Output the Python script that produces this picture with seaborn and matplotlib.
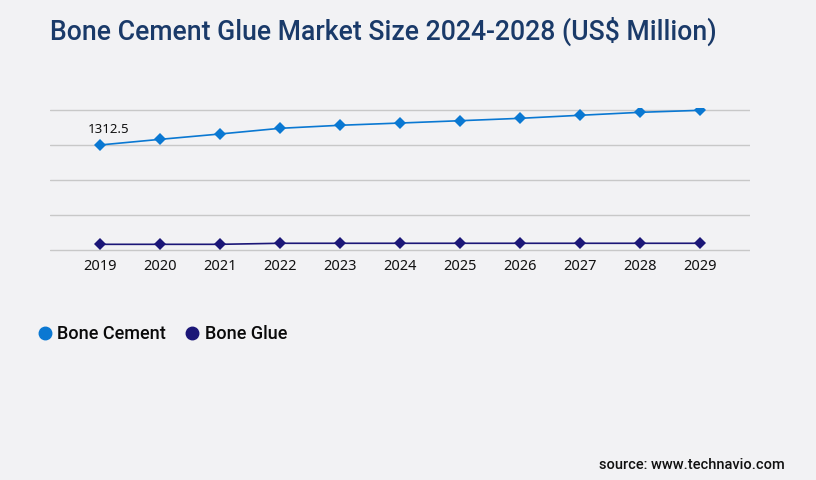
import numpy as np
import pandas as pd
import matplotlib
matplotlib.use("Agg")
import matplotlib.pyplot as plt
import seaborn as sns
from matplotlib.lines import Line2D

# Daten
years = ["2019", "2020", "2021", "2022", "2023", "2024", "2025", "2026", "2027", "2028", "2029"]
bone_cement = [1312.5, 1383, 1450, 1521, 1559, 1587, 1616, 1646, 1684, 1721, 1746]
bone_glue = [71, 71, 71, 84, 84, 84, 84, 84, 84, 84, 84]
series_names = ["Bone Cement", "Bone Glue"]
colors = ["#0a78d2", "#1b1677"]

df = pd.DataFrame({
    "year": years * 2,
    "value": bone_cement + bone_glue,
    "series": [series_names[0]] * len(years) + [series_names[1]] * len(years),
})

sns.set_theme(style="white")
plt.rcParams["font.family"] = ["Roboto", "DejaVu Sans"]

bg = "#f2f2f4"
fig = plt.figure(figsize=(8.16, 4.8), dpi=100, facecolor=bg)
ax = fig.add_axes([50 / 816, 1 - 252 / 480, 700 / 816, 144 / 480])
ax.set_facecolor(bg)

sns.lineplot(data=df, x="year", y="value", hue="series", palette=colors,
             marker="D", markersize=6, markeredgewidth=0, linewidth=1.2,
             ax=ax, legend=False)

# y-Achse: 0..1750, kleiner Rand damit die unterste Linie sichtbar ist
ax.set_xlim(-0.83, len(years) - 1 + 0.83)
ax.set_ylim(-25, 1775)
ax.set_yticks(np.linspace(0, 1750, 5))
ax.yaxis.grid(True, color="#c8c8c8", linewidth=1)
ax.set_axisbelow(True)
ax.set_yticklabels([])
ax.tick_params(axis="y", length=0)
ax.tick_params(axis="x", length=0, pad=5)
for lab in ax.get_xticklabels():
    lab.set_fontfamily(["Noto Sans", "DejaVu Sans"])
    lab.set_fontsize(10.5)
    lab.set_color("#111111")
for s in ax.spines.values():
    s.set_visible(False)
ax.set_xlabel("")
ax.set_ylabel("")

# Datenbeschriftung
ax.annotate(f"{bone_cement[0]}", (0, bone_cement[0]), xytext=(6.5, 11),
            textcoords="offset points", ha="center", va="center",
            fontsize=9.5, color="#111111", family=["Noto Sans", "DejaVu Sans"])

# Titel
fig.text(50 / 816, 1 - 31 / 480, "Bone Cement Glue Market Size 2024-2028 (US$ Million)",
         fontsize=19.2, fontweight="medium", color="#1a3a69", va="center", ha="left")

# Legende
handles = [Line2D([], [], linestyle="", marker="o", markersize=9, color=c) for c in colors]
fig.legend(handles, series_names, loc="center left",
           bbox_to_anchor=(36 / 816, 1 - 334 / 480), ncol=2, frameon=False,
           prop={"size": 13, "weight": "medium"}, labelcolor="#0a0a0a",
           handletextpad=0.18, columnspacing=0.95, handlelength=1.0,
           borderpad=0, borderaxespad=0)

# Quelle
fig.text(785 / 816, 1 - 465 / 480, "source: www.technavio.com", fontsize=10.5,
         fontweight="medium", color="#111111", ha="right", va="center")

fig.savefig("out.png", dpi=100, facecolor=bg)
